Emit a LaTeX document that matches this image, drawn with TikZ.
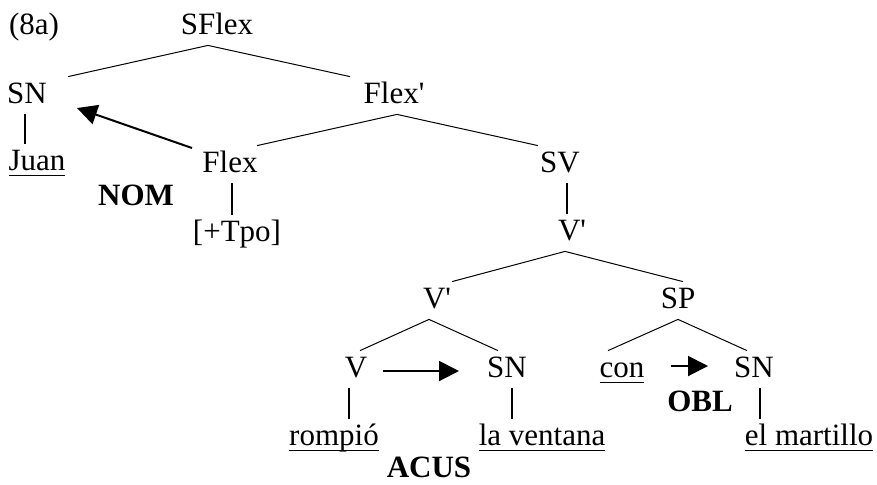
\documentclass[tikz,border=0pt]{standalone}
\usepackage{fontspec}
\setmainfont{Liberation Serif}[Ligatures=TeXOff]
\usetikzlibrary{arrows.meta}

\newcommand{\uword}[1]{\setbox0\hbox{#1}\rlap{\rule[-3pt]{\wd0}{0.7pt}}\box0}

\begin{document}
\begin{tikzpicture}[x=0.5pt, y=-0.5pt,
        every node/.style={font=\fontsize{15.5}{18}\selectfont},
        cat/.style={anchor=base, inner xsep=1pt, inner ysep=2pt, text height=11pt, text depth=3.5pt},
        tag/.style={anchor=base, font=\fontsize{15.5}{18}\selectfont\bfseries},
        branch/.style={line width=0.5pt},
        stem/.style={line width=1pt},
        case/.style={-{Triangle[length=10pt,width=10pt]}, line width=1pt}]
        \useasboundingbox (0,0) rectangle (877,484);

        % Upper part of the tree
        \node[cat] (num) at (34,34) {(8a)};
        \node[cat] (SFlex) at (217,34) {SFlex};
        \node[cat] (SNa) at (27,103) {SN};
        \node[cat] (Flexp) at (394,103) {Flex'};
        \node[cat] (Juan) at (37,170) {\uword{Juan}};
        \node[cat] (Flex) at (230,172) {Flex};
        \node[tag] (NOM) at (136,205) {NOM};
        \node[cat] (SV) at (560,172) {SV};
        \node[cat] (Tpo) at (237,241) {[+Tpo]};
        \node[cat] (Vpa) at (572,240) {V'};

        % Lower part of the tree
        \node[cat] (Vpb) at (437,308) {V'};
        \node[cat] (SP) at (678,308) {SP};
        \node[cat] (V) at (356,377) {V};
        \node[cat] (SNb) at (507,377) {SN};
        \node[cat] (con) at (622,377) {\uword{con}};
        \node[cat] (SNc) at (754,377) {SN};
        \node[tag] (OBL) at (700,411) {OBL};
        \node[cat] (rompio) at (334,445) {\uword{rompió}};
        \node[cat] (ventana) at (542,445) {\uword{la ventana}};
        \node[cat] (martillo) at (809,445) {\uword{el martillo}};
        \node[tag] (ACUS) at (429,477) {ACUS};

        % Branches
        \draw[branch] ([shift={(41,0)}]SNa.north) -- ([shift={(-9,0)}]SFlex.south) -- ([shift={(-44,0)}]Flexp.north);
        \draw[branch] ([shift={(27,0)}]Flex.north) -- ([shift={(3,0)}]Flexp.south) -- ([shift={(-22,0)}]SV.north);
        \draw[branch] ([shift={(15,0)}]Vpb.north) -- ([shift={(-7,0)}]Vpa.south) -- ([shift={(5,0)}]SP.north);
        \draw[branch] ([shift={(4,0)}]V.north) -- ([shift={(-8,0)}]Vpb.south) -- ([shift={(-9,0)}]SNb.north);
        \draw[branch] ([shift={(-14,0)}]con.north) -- (SP.south) -- ([shift={(-7,0)}]SNc.north);

        % Unary branches
        \draw[stem] ([shift={(-2,0)}]SNa.south) -- ([shift={(-2,0)}]SNa.south |- Juan.north);
        \draw[stem] ([shift={(2,0)}]Flex.south) -- ([shift={(2,0)}]Flex.south |- Tpo.north);
        \draw[stem] ([shift={(7,0)}]SV.south) -- ([shift={(7,0)}]SV.south |- Vpa.north);
        \draw[stem] ([shift={(-7,0)}]V.south) -- ([shift={(-7,0)}]V.south |- rompio.north);
        \draw[stem] ([shift={(5,0)}]SNb.south) -- ([shift={(5,0)}]SNb.south |- ventana.north);
        \draw[stem] ([shift={(6,0)}]SNc.south) -- ([shift={(6,0)}]SNc.south |- martillo.north);

        % Case assignment
        \draw[case] ([shift={(-38,-24)}]Flex.base) -- ([shift={(50,5)}]SNa.base);
        \draw[case] ([shift={(27,-6)}]V.base) -- ([shift={(-48,-6)}]SNb.base);
        \draw[case] ([shift={(49,-11)}]con.base) -- ([shift={(-46,-11)}]SNc.base);
\end{tikzpicture}
\end{document}
